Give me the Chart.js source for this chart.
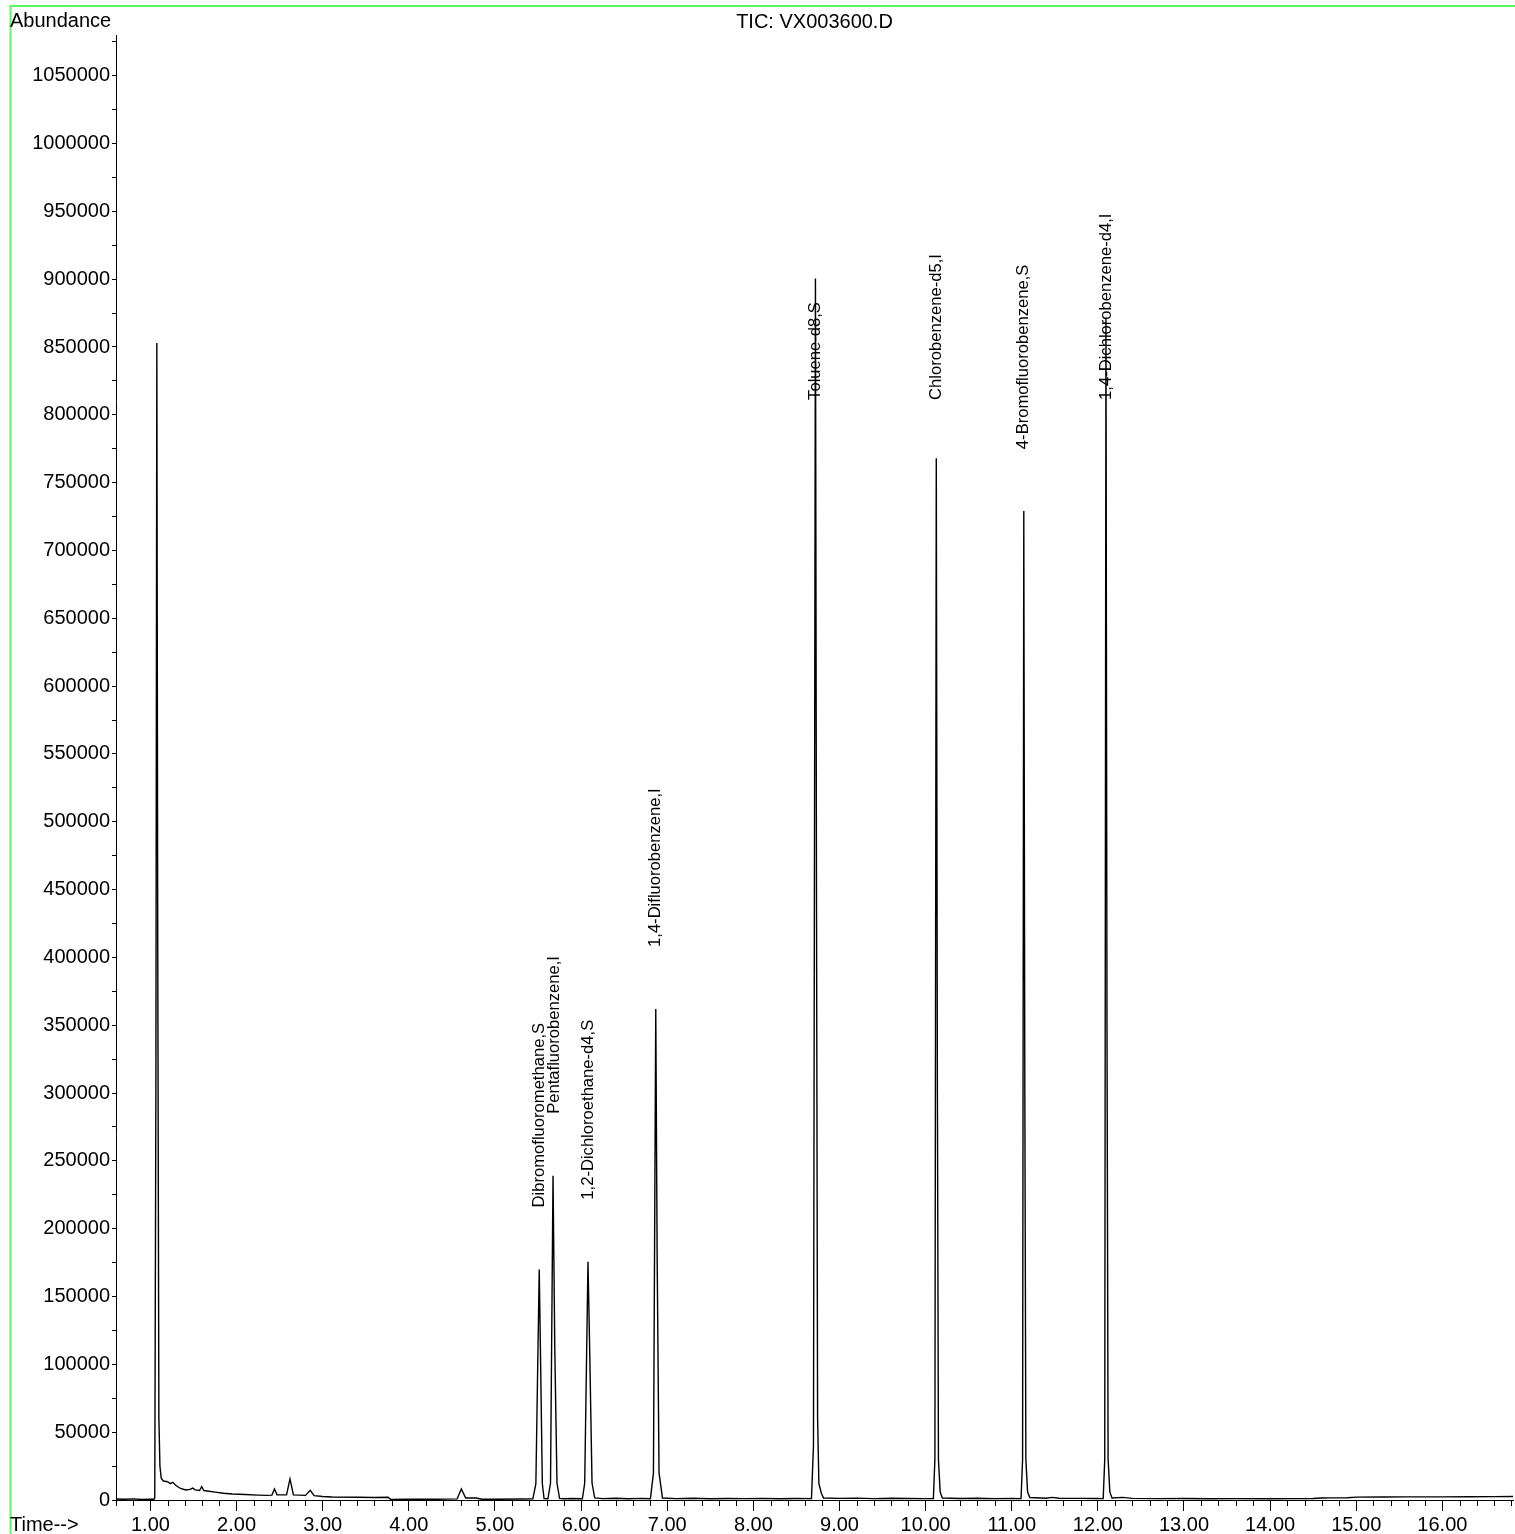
<!DOCTYPE html>
<html>
<head>
<meta charset="utf-8">
<script src="https://cdn.jsdelivr.net/npm/chart.js@4.4.0/dist/chart.umd.min.js"></script>
<style>
  html, body { margin: 0; padding: 0; background: #fff; }
  #wrap { width: 1515px; height: 1534px; position: relative; }
</style>
</head>
<body>
<div id="wrap"><canvas id="tic"></canvas></div>
<script>
// retention time (min) and abundance of the TIC trace
const times = [
  0.60, 0.70, 0.80, 0.90, 1.00, 1.040, 1.050, 1.063, 1.074, 1.085, 1.098, 1.110,
  1.125, 1.150, 1.200, 1.230, 1.260, 1.300, 1.350, 1.410, 1.460, 1.490, 1.520,
  1.570, 1.595, 1.620, 1.660, 1.750, 1.850, 1.950, 2.100, 2.250, 2.350, 2.410,
  2.440, 2.470, 2.580, 2.620, 2.660, 2.800, 2.855, 2.900, 3.000, 3.110, 3.400,
  3.600, 3.760, 3.790, 4.000, 4.300, 4.560, 4.610, 4.660, 4.780, 4.850, 5.000,
  5.300, 5.440, 5.475, 5.514, 5.528, 5.550, 5.570, 5.615, 5.645, 5.674, 5.695,
  5.720, 5.750, 5.800, 5.900, 6.015, 6.042, 6.080, 6.100, 6.127, 6.158, 6.250,
  6.400, 6.550, 6.700, 6.805, 6.840, 6.867, 6.883, 6.905, 6.945, 7.100, 7.300,
  7.500, 7.700, 7.900, 8.100, 8.300, 8.500, 8.675, 8.698, 8.721, 8.733, 8.746,
  8.761, 8.790, 8.815, 9.000, 9.200, 9.400, 9.600, 9.800, 10.000, 10.090, 10.108,
  10.124, 10.137, 10.149, 10.169, 10.194, 10.400, 10.600, 10.800, 11.000, 11.108,
  11.126, 11.140, 11.152, 11.164, 11.184, 11.209, 11.400, 11.470, 11.550, 11.800,
  12.000, 12.062, 12.080, 12.094, 12.106, 12.119, 12.139, 12.164, 12.290, 12.400,
  12.700, 13.000, 13.300, 13.600, 14.000, 14.300, 14.500, 14.600, 14.700, 14.900,
  15.000, 15.300, 15.600, 16.000, 16.300, 16.600, 16.820
];
const abundance = [
  700, 500, 800, 400, 600, 500, 1500, 300000, 853000, 400000, 60000, 25000,
  16000, 14000, 13500, 12000, 13000, 10500, 8500, 7400, 7800, 8800, 7500,
  7000, 9800, 7000, 6600, 5800, 5000, 4400, 4000, 3600, 3400, 3600,
  8100, 3800, 3800, 15500, 3800, 3400, 7100, 3200, 2600, 2200, 2000,
  1800, 2000, 400, 500, 500, 800, 8100, 1500, 1500, 600, 600,
  700, 800, 12000, 170000, 110000, 12000, 1000, 900, 12500, 239000, 110000,
  12500, 1200, 900, 1100, 900, 12500, 175700, 110000, 12500, 1500, 1000,
  1300, 900, 1200, 900, 20000, 362000, 180000, 20000, 1500, 1000, 1300,
  900, 1100, 1000, 1200, 900, 1100, 1000, 40000, 900500, 450000, 60000,
  12000, 5000, 1500, 1200, 1400, 1000, 1300, 1100, 1000, 1000, 30000,
  768000, 300000, 30000, 6000, 1500, 1100, 1300, 1000, 1200, 1000,
  30000, 729000, 300000, 30000, 6000, 1800, 1300, 1900, 1300, 1200,
  1100, 1000, 30000, 871000, 350000, 30000, 6000, 1500, 1900, 1200,
  1000, 1100, 900, 1000, 900, 1000, 1100, 1500, 1600, 1700,
  2100, 2200, 2300, 2300, 2400, 2500, 2600
];

// identified compounds: name, apex time, apex abundance
const peakNames = [
  'Dibromofluoromethane,S', 'Pentafluorobenzene,I', '1,2-Dichloroethane-d4,S',
  '1,4-Difluorobenzene,I', 'Toluene-d8,S', 'Chlorobenzene-d5,I',
  '4-Bromofluorobenzene,S', '1,4-Dichlorobenzene-d4,I'
];
const peakTimes = [5.512, 5.690, 6.080, 6.867, 8.721, 10.124, 11.140, 12.094];
const peakHeights = [170000, 239000, 175700, 362000, 900500, 768000, 729000, 871000];

// axis ticks
const xMajorTicks = [1, 2, 3, 4, 5, 6, 7, 8, 9, 10, 11, 12, 13, 14, 15, 16];
const yStep = 25000;
const yMax = 1080000;

const FONT = '"Liberation Sans", Arial, Helvetica, sans-serif';

const yTickValues = [];
for (let v = 0; v < yMax; v += yStep) yTickValues.push(v);
const xMinorTicks = [];
for (let i = 3; i <= 84; i++) {
  if (i % 5 !== 0) xMinorTicks.push(i / 5);
}

const frame = {
  id: 'frame',
  beforeDraw(chart) {
    const ctx = chart.ctx;
    ctx.save();
    ctx.fillStyle = '#fff';
    ctx.fillRect(0, 0, chart.width, chart.height);
    ctx.strokeStyle = '#62f562';
    ctx.lineWidth = 2;
    ctx.beginPath();
    ctx.moveTo(10.5, chart.height);
    ctx.lineTo(10.5, 6);
    ctx.lineTo(chart.width, 6);
    ctx.stroke();
    ctx.restore();
  },
  afterDraw(chart) {
    const ctx = chart.ctx;
    const area = chart.chartArea;
    const xs = chart.scales.x;
    ctx.save();
    // minor time ticks
    ctx.strokeStyle = '#000';
    ctx.lineWidth = 1;
    ctx.beginPath();
    xMinorTicks.forEach(v => {
      const px = Math.round(xs.getPixelForValue(v)) + 0.5;
      ctx.moveTo(px, area.bottom);
      ctx.lineTo(px, area.bottom + 6);
    });
    ctx.stroke();
    // texts
    ctx.fillStyle = '#000';
    ctx.font = '20px ' + FONT;
    ctx.textBaseline = 'alphabetic';
    ctx.textAlign = 'left';
    ctx.fillText('Abundance', 10, 27);
    ctx.fillText('Time-->', 10, 1531);
    ctx.textAlign = 'center';
    ctx.fillText('TIC: VX003600.D', (area.left + area.right) / 2, 28);
    ctx.restore();
  }
};

const peakLabels = {
  id: 'peakLabels',
  afterDatasetsDraw(chart) {
    const ctx = chart.ctx;
    const xs = chart.scales.x, ys = chart.scales.y;
    const cap = ys.getPixelForValue(811000);
    ctx.save();
    ctx.fillStyle = '#000';
    ctx.font = '16.6px ' + FONT;
    ctx.textAlign = 'left';
    ctx.textBaseline = 'middle';
    peakNames.forEach((name, i) => {
      const px = xs.getPixelForValue(peakTimes[i]);
      const py = Math.max(ys.getPixelForValue(peakHeights[i]) - 62, cap);
      ctx.save();
      ctx.translate(px, py);
      ctx.rotate(-Math.PI / 2);
      ctx.fillText(name, 0, 0);
      ctx.restore();
    });
    ctx.restore();
  }
};

const config = {
  type: 'scatter',
  data: {
    datasets: [{
      label: 'TIC',
      data: times.map((t, i) => ({ x: t, y: abundance[i] })),
      showLine: true,
      borderColor: '#000',
      borderWidth: 1.4,
      pointRadius: 0,
      tension: 0
    }]
  },
  options: {
    responsive: true,
    maintainAspectRatio: false,
    animation: false,
    layout: { padding: { left: 10, top: 35, right: 2, bottom: 0 } },
    plugins: {
      legend: { display: false },
      title: { display: false },
      tooltip: { enabled: false }
    },
    scales: {
      x: {
        type: 'linear',
        min: 0.6,
        max: 16.82,
        afterBuildTicks: s => { s.ticks = xMajorTicks.map(v => ({ value: v })); },
        afterFit: s => { s.height = 34; },
        ticks: {
          autoSkip: false,
          maxRotation: 0,
          padding: 2,
          color: '#000',
          font: { family: FONT, size: 20 },
          callback: v => Number(v).toFixed(2)
        },
        grid: { drawOnChartArea: false, tickLength: 11, color: '#000', lineWidth: 1 },
        border: { color: '#000', width: 1 }
      },
      y: {
        type: 'linear',
        min: 0,
        max: yMax,
        afterBuildTicks: s => { s.ticks = yTickValues.map(v => ({ value: v })); },
        afterFit: s => { s.width = 106; },
        ticks: {
          autoSkip: false,
          padding: 2,
          color: '#000',
          font: { family: FONT, size: 20 },
          callback: v => (v % 50000 === 0 ? String(v) : '')
        },
        grid: { drawOnChartArea: false, tickLength: 4, color: '#000', lineWidth: 1 },
        border: { color: '#000', width: 1 }
      }
    }
  },
  plugins: [frame, peakLabels]
};

new Chart(document.getElementById('tic'), config);
</script>
</body>
</html>
